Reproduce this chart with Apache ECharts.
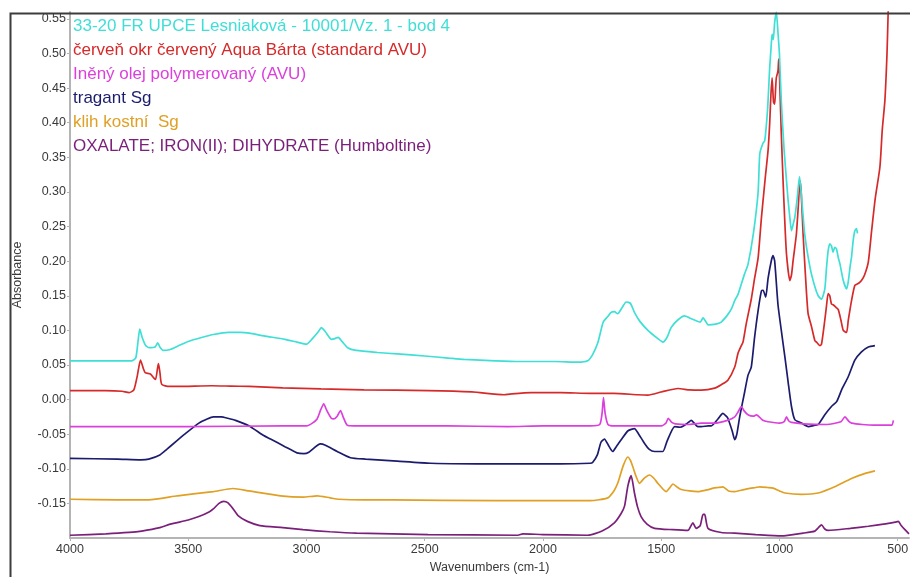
<!DOCTYPE html>
<html>
<head>
<meta charset="utf-8">
<script src="https://cdn.jsdelivr.net/npm/echarts@6/dist/echarts.min.js"></script>
<style>
html,body{margin:0;padding:0;background:#fff;}
#chart{width:910px;height:577px;}
</style>
</head>
<body>
<div id="chart"></div>
<script>
// Tick values
const xTicks = [4000, 3500, 3000, 2500, 2000, 1500, 1000, 500];
const yTicks = [-0.15, -0.10, -0.05, 0.00, 0.05, 0.10, 0.15, 0.20, 0.25, 0.30, 0.35, 0.40, 0.45, 0.50, 0.55];

// Series names (legend)
const seriesNames = [
  '33-20 FR UPCE Lesniaková - 10001/Vz. 1 - bod 4',
  'červeň okr červený Aqua Bárta (standard AVU)',
  'Iněný olej polymerovaný (AVU)',
  'tragant Sg',
  'klih kostní  Sg',
  'OXALATE; IRON(II); DIHYDRATE (Humboltine)'
];

// Spectra: [wavenumber, absorbance]
const cyanData = [[4000,0.056],[3800,0.056],[3740,0.056],[3722,0.060],[3712,0.085],[3705,0.102],[3695,0.090],[3680,0.078],[3665,0.075],[3640,0.076],[3629,0.082],[3620,0.076],[3606,0.071],[3580,0.072],[3540,0.078],[3500,0.084],[3440,0.090],[3394,0.094],[3330,0.097],[3280,0.097],[3242,0.096],[3180,0.092],[3091,0.087],[3040,0.083],[3000,0.080],[2975,0.088],[2950,0.098],[2937,0.104],[2920,0.098],[2894,0.087],[2880,0.088],[2866,0.090],[2850,0.084],[2826,0.075],[2790,0.071],[2700,0.068],[2616,0.066],[2500,0.063],[2400,0.060],[2333,0.058],[2200,0.056],[2100,0.055],[1950,0.055],[1853,0.054],[1811,0.056],[1790,0.065],[1768,0.082],[1745,0.112],[1726,0.120],[1712,0.126],[1698,0.127],[1684,0.124],[1665,0.133],[1648,0.141],[1630,0.139],[1613,0.126],[1590,0.113],[1556,0.100],[1514,0.088],[1493,0.083],[1475,0.090],[1458,0.104],[1430,0.115],[1401,0.121],[1380,0.118],[1359,0.115],[1335,0.112],[1323,0.118],[1310,0.112],[1302,0.108],[1270,0.109],[1246,0.112],[1220,0.122],[1203,0.131],[1189,0.143],[1175,0.152],[1161,0.167],[1147,0.182],[1133,0.195],[1110,0.240],[1090,0.300],[1083,0.355],[1070,0.370],[1062,0.374],[1050,0.420],[1041,0.480],[1035,0.510],[1031,0.528],[1026,0.520],[1020,0.545],[1013,0.560],[1006,0.530],[1000,0.500],[992,0.431],[980,0.360],[963,0.287],[955,0.260],[949,0.244],[940,0.256],[935,0.263],[925,0.290],[915,0.322],[908,0.300],[893,0.239],[870,0.190],[850,0.163],[836,0.150],[822,0.145],[808,0.160],[801,0.190],[794,0.215],[787,0.225],[780,0.222],[773,0.213],[766,0.220],[759,0.218],[751,0.205],[744,0.196],[730,0.172],[716,0.160],[709,0.170],[700,0.195],[695,0.206],[688,0.230],[681,0.244],[674,0.247],[670,0.240]];

const redData = [[4000,0.013],[3850,0.013],[3780,0.012],[3750,0.010],[3730,0.014],[3715,0.035],[3702,0.057],[3690,0.045],[3682,0.039],[3660,0.037],[3645,0.031],[3638,0.029],[3630,0.045],[3626,0.052],[3620,0.040],[3612,0.022],[3580,0.019],[3545,0.019],[3400,0.020],[3322,0.0195],[3242,0.019],[3100,0.017],[2939,0.0155],[2757,0.014],[2485,0.013],[2300,0.011],[2164,0.007],[2140,0.008],[2050,0.010],[1924,0.010],[1800,0.009],[1700,0.009],[1600,0.007],[1556,0.0065],[1500,0.011],[1429,0.016],[1380,0.014],[1330,0.0137],[1274,0.0165],[1246,0.0215],[1218,0.028],[1189,0.047],[1175,0.067],[1161,0.078],[1154,0.083],[1140,0.110],[1119,0.145],[1105,0.175],[1090,0.205],[1076,0.263],[1060,0.320],[1048,0.360],[1041,0.400],[1036,0.440],[1031,0.465],[1025,0.430],[1020,0.427],[1016,0.450],[1013,0.465],[1006,0.475],[1003,0.492],[998,0.450],[992,0.384],[985,0.320],[978,0.263],[970,0.210],[956,0.172],[949,0.180],[942,0.201],[935,0.220],[928,0.240],[920,0.280],[913,0.316],[908,0.300],[900,0.240],[890,0.180],[879,0.125],[864,0.105],[850,0.085],[843,0.083],[829,0.078],[822,0.080],[808,0.115],[801,0.135],[794,0.153],[787,0.150],[780,0.138],[773,0.137],[760,0.133],[751,0.130],[740,0.115],[730,0.100],[716,0.097],[709,0.114],[702,0.129],[695,0.143],[681,0.165],[665,0.168],[653,0.172],[640,0.180],[624,0.199],[610,0.244],[595,0.290],[575,0.336],[565,0.390],[554,0.432],[545,0.500],[540,0.561],[535,0.620]];

const magentaData = [[4000,-0.039],[3500,-0.039],[3100,-0.038],[3000,-0.038],[2975,-0.034],[2955,-0.028],[2940,-0.015],[2927,-0.006],[2915,-0.015],[2895,-0.027],[2884,-0.028],[2870,-0.024],[2856,-0.016],[2845,-0.025],[2828,-0.037],[2800,-0.038],[2400,-0.038],[2150,-0.039],[2000,-0.038],[1800,-0.038],[1760,-0.036],[1750,-0.020],[1744,0.003],[1737,-0.020],[1725,-0.036],[1700,-0.038],[1500,-0.038],[1480,-0.034],[1470,-0.027],[1455,-0.033],[1440,-0.035],[1387,-0.036],[1330,-0.034],[1274,-0.034],[1220,-0.030],[1189,-0.025],[1175,-0.018],[1161,-0.010],[1150,-0.016],[1133,-0.022],[1110,-0.024],[1097,-0.022],[1070,-0.030],[1048,-0.032],[1000,-0.034],[980,-0.032],[970,-0.025],[960,-0.031],[949,-0.033],[900,-0.035],[800,-0.036],[740,-0.032],[723,-0.025],[705,-0.032],[695,-0.034],[650,-0.036],[600,-0.037],[550,-0.037],[525,-0.037],[518,-0.030]];

const navyData = [[4000,-0.085],[3800,-0.086],[3700,-0.087],[3667,-0.086],[3620,-0.080],[3591,-0.072],[3550,-0.060],[3515,-0.050],[3455,-0.034],[3420,-0.028],[3394,-0.025],[3360,-0.025],[3333,-0.027],[3300,-0.030],[3242,-0.038],[3181,-0.052],[3152,-0.057],[3091,-0.068],[3040,-0.077],[3011,-0.078],[2990,-0.076],[2941,-0.064],[2920,-0.066],[2870,-0.075],[2814,-0.084],[2750,-0.086],[2616,-0.089],[2475,-0.092],[2200,-0.093],[2051,-0.093],[1927,-0.093],[1800,-0.092],[1790,-0.091],[1770,-0.080],[1755,-0.062],[1740,-0.057],[1720,-0.068],[1705,-0.075],[1690,-0.068],[1669,-0.058],[1640,-0.045],[1613,-0.042],[1595,-0.050],[1571,-0.063],[1550,-0.072],[1528,-0.075],[1493,-0.075],[1475,-0.060],[1443,-0.039],[1420,-0.040],[1401,-0.037],[1385,-0.033],[1373,-0.030],[1345,-0.039],[1330,-0.039],[1300,-0.038],[1288,-0.038],[1260,-0.028],[1239,-0.020],[1225,-0.024],[1218,-0.027],[1200,-0.045],[1189,-0.058],[1180,-0.050],[1168,-0.025],[1147,0.011],[1133,0.035],[1119,0.047],[1105,0.090],[1090,0.129],[1076,0.157],[1069,0.158],[1058,0.148],[1048,0.175],[1034,0.201],[1027,0.208],[1020,0.200],[1006,0.137],[992,0.100],[977,0.062],[963,0.025],[949,-0.010],[935,-0.029],[907,-0.034],[878,-0.039],[850,-0.037],[836,-0.036],[808,-0.022],[780,-0.010],[758,-0.003],[737,0.014],[709,0.033],[681,0.057],[653,0.069],[624,0.076],[596,0.078]];

const goldData = [[4000,-0.144],[3800,-0.145],[3667,-0.145],[3545,-0.139],[3394,-0.133],[3311,-0.1285],[3242,-0.132],[3110,-0.139],[3015,-0.141],[2955,-0.139],[2900,-0.142],[2864,-0.144],[2757,-0.145],[2636,-0.145],[2200,-0.146],[2000,-0.146],[1800,-0.146],[1726,-0.142],[1700,-0.132],[1684,-0.121],[1660,-0.095],[1641,-0.083],[1630,-0.088],[1620,-0.097],[1605,-0.112],[1592,-0.121],[1570,-0.113],[1549,-0.109],[1530,-0.114],[1514,-0.121],[1479,-0.133],[1465,-0.128],[1450,-0.122],[1430,-0.127],[1415,-0.130],[1380,-0.132],[1345,-0.133],[1300,-0.130],[1280,-0.128],[1260,-0.127],[1239,-0.126],[1215,-0.132],[1189,-0.133],[1150,-0.130],[1100,-0.127],[1083,-0.126],[1050,-0.127],[1027,-0.128],[1000,-0.132],[977,-0.135],[907,-0.137],[836,-0.135],[766,-0.126],[695,-0.114],[640,-0.107],[596,-0.103]];

const purpleData = [[4000,-0.196],[3848,-0.194],[3750,-0.192],[3697,-0.190],[3620,-0.185],[3576,-0.180],[3500,-0.174],[3455,-0.169],[3410,-0.162],[3394,-0.158],[3370,-0.150],[3350,-0.147],[3333,-0.149],[3310,-0.158],[3288,-0.168],[3250,-0.176],[3197,-0.182],[3100,-0.185],[3015,-0.188],[2900,-0.191],[2788,-0.193],[2485,-0.195],[2106,-0.196],[2085,-0.194],[2000,-0.195],[1811,-0.196],[1750,-0.190],[1698,-0.178],[1670,-0.165],[1655,-0.154],[1641,-0.125],[1627,-0.110],[1613,-0.135],[1600,-0.155],[1585,-0.169],[1560,-0.180],[1528,-0.186],[1450,-0.188],[1387,-0.189],[1375,-0.183],[1366,-0.178],[1352,-0.186],[1335,-0.182],[1323,-0.166],[1316,-0.166],[1302,-0.186],[1246,-0.192],[1189,-0.193],[1100,-0.195],[992,-0.197],[900,-0.193],[850,-0.190],[835,-0.185],[822,-0.181],[808,-0.187],[794,-0.189],[700,-0.186],[624,-0.183],[560,-0.180],[510,-0.177],[497,-0.176],[485,-0.182],[469,-0.188],[452,-0.194]];

const colors = ['#3fdfd6', '#d62a2a', '#dc40dc', '#1c1c6e', '#e0a024', '#7a1f7a'];
const allData = [cyanData, redData, magentaData, navyData, goldData, purpleData];

const chart = echarts.init(document.getElementById('chart'), null, {renderer: 'canvas'});

const FONT = '"Liberation Sans", Arial, sans-serif';

const legendTexts = seriesNames.map((name, i) => ({
  type: 'text',
  left: 73,
  top: 26.7 + 24.1 * i - 9,
  z: 100,
  style: {
    text: name,
    fill: colors[i],
    font: '17px ' + FONT
  }
}));

const option = {
  animation: false,
  backgroundColor: '#ffffff',
  grid: {left: 70, right: 1, top: 12, bottom: 39, containLabel: false, outerBoundsMode: 'none'},
  xAxis: {
    type: 'value',
    inverse: true,
    min: 452,
    max: 4000,
    name: 'Wavenumbers (cm-1)',
    nameLocation: 'middle',
    nameGap: 23,
    nameTextStyle: {color: '#3a3a3a', fontSize: 12.5, fontFamily: FONT},
    axisLine: {show: true, onZero: false, lineStyle: {color: '#b4b4b4', width: 2}},
    axisTick: {show: true, length: 3, customValues: xTicks, lineStyle: {color: '#b4b4b4', width: 1}},
    axisLabel: {show: true, customValues: xTicks, margin: 5, color: '#3a3a3a', fontSize: 12.5, fontFamily: FONT,
      formatter: v => String(Math.round(v))},
    splitLine: {show: false}
  },
  yAxis: {
    type: 'value',
    min: -0.2,
    max: 0.56,
    name: 'Absorbance',
    nameLocation: 'middle',
    nameGap: 46,
    nameTextStyle: {color: '#3a3a3a', fontSize: 12.5, fontFamily: FONT},
    axisLine: {show: true, lineStyle: {color: '#b4b4b4', width: 2}},
    axisTick: {show: true, length: 3, customValues: yTicks, lineStyle: {color: '#b4b4b4', width: 1}},
    axisLabel: {
      show: true, customValues: yTicks, margin: 4, color: '#3a3a3a', fontSize: 12.5,
      fontFamily: FONT,
      formatter: v => v.toFixed(2)
    },
    splitLine: {show: false}
  },
  series: allData.map((d, i) => ({
    name: seriesNames[i],
    type: 'line',
    data: d,
    showSymbol: false,
    symbol: 'none',
    smooth: 0.2,
    clip: true,
    lineStyle: {color: colors[i], width: 1.7},
    itemStyle: {color: colors[i]},
    z: 10 - i
  })),
  graphic: [
    {
      type: 'rect',
      left: 8,
      top: 11,
      z: 50,
      shape: {x: 0, y: 0, width: 1000, height: 1000},
      style: {fill: 'none', stroke: '#3c3c3c', lineWidth: 2}
    }
  ].concat(legendTexts)
};

chart.setOption(option);
</script>
</body>
</html>
